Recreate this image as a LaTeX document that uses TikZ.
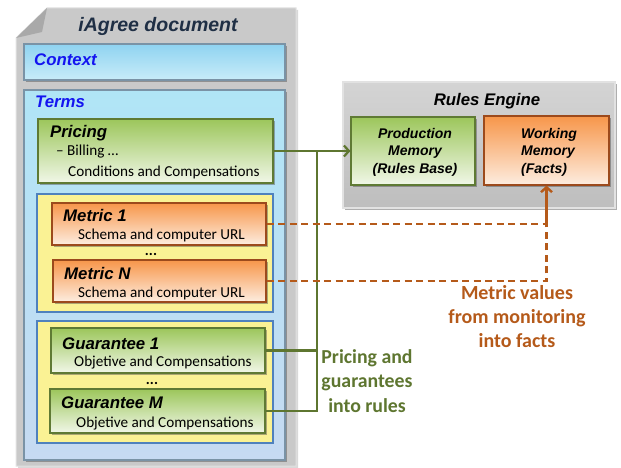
\documentclass[tikz,border=0pt]{standalone}
\usepackage{fontspec}
\setmainfont{Carlito}
\newfontfamily\headfont{Liberation Sans}
\usetikzlibrary{arrows.meta,shadows}

\definecolor{docgray}{HTML}{C9C9C9}
\definecolor{docedge}{HTML}{E2E2E2}
\definecolor{docfold}{HTML}{A9A9A9}
\definecolor{ctxtop}{HTML}{8FD3F0}
\definecolor{ctxbot}{HTML}{C8ECF9}
\definecolor{termtop}{HTML}{B0E5F6}
\definecolor{termbot}{HTML}{C6DAF2}
\definecolor{boxedge}{HTML}{7A93A6}
\definecolor{grtop}{HTML}{9CC65B}
\definecolor{grbot}{HTML}{F1F7E8}
\definecolor{gredge}{HTML}{5F7A34}
\definecolor{ortop}{HTML}{F7964A}
\definecolor{orbot}{HTML}{FDEDE0}
\definecolor{oredge}{HTML}{9C4A1C}
\definecolor{yelfill}{HTML}{FAF294}
\definecolor{yeledge}{HTML}{4F81BD}
\definecolor{enginetop}{HTML}{D4D4D4}
\definecolor{enginebot}{HTML}{BEBEBE}
\definecolor{linkgreen}{HTML}{5E7630}
\definecolor{linkorange}{HTML}{B55A1A}
\definecolor{navy}{HTML}{1F2F45}
\definecolor{termblue}{HTML}{1414F0}

\tikzset{
  shadowed/.style={drop shadow={shadow xshift=2pt, shadow yshift=-2pt, opacity=0.45, fill=black!70}},
  box/.style={rectangle, inner sep=0pt, line width=1.1pt},
  bluebox/.style={box, draw=boxedge, shadowed},
  greenbox/.style={box, draw=gredge, top color=grtop, bottom color=grbot, shadowed},
  orangebox/.style={box, draw=oredge, top color=ortop, bottom color=orbot, shadowed},
  yellowbox/.style={box, draw=yeledge, line width=1.4pt, fill=yelfill},
  enginebox/.style={box, draw=docedge, top color=enginetop, bottom color=enginebot, shadowed},
  boxtitle/.style={inner sep=0pt, font=\headfont\bfseries\itshape\fontsize{16.8}{18}\selectfont},
  smalltitle/.style={inner sep=0pt, align=center, font=\headfont\bfseries\itshape\fontsize{14}{17.5}\selectfont},
  bodytext/.style={inner sep=0pt, font=\fontsize{15.2}{17}\selectfont},
  dots/.style={inner sep=0pt, text height=3pt, text depth=0pt, font=\bfseries\fontsize{15}{15}\selectfont},
  greenlabel/.style={inner sep=0pt, align=center, text=linkgreen, font=\bfseries\fontsize{19.8}{24.5}\selectfont},
  orangelabel/.style={inner sep=0pt, align=center, text=linkorange, font=\bfseries\fontsize{20}{24}\selectfont},
  greenlink/.style={draw=linkgreen, line width=2.2pt},
  orangelink/.style={draw=linkorange, line width=2.4pt, dash pattern=on 7pt off 4.5pt},
}

\begin{document}
\begin{tikzpicture}[x=1pt, y=-1pt]
\useasboundingbox (0,0) rectangle (621,468);

% document sheet with folded corner
\fill[black!15] (18,40) -- (49,10) -- (298,10) -- (298,468) -- (18,468) -- cycle;
\draw[fill=docgray, draw=docedge, line width=1pt]
  (16,38) -- (47,8) -- (296,8) -- (296,466) -- (16,466) -- cycle;
\fill[docfold] (47,8) -- (42,32) -- (16,38) -- cycle;
\node[inner sep=0pt, anchor=base, text=navy,
      font=\headfont\bfseries\itshape\fontsize{19.5}{22}\selectfont]
  (doctitle) at (158,32) {iAgree document};

% context and terms
\node[bluebox, top color=ctxtop, bottom color=ctxbot,
      minimum width=261pt, minimum height=36pt] (context) at (154.5,62) {};
\node[boxtitle, anchor=base west, text=termblue] (contextT) at (34,66) {Context};

\node[bluebox, top color=termtop, bottom color=termbot,
      minimum width=261pt, minimum height=370pt] (terms) at (154.5,275) {};
\node[boxtitle, anchor=base west, text=termblue] (termsT) at (35,108) {Terms};

% pricing
\node[greenbox, minimum width=235pt, minimum height=64pt] (pricing) at (155.5,151) {};
\node[boxtitle, anchor=base west] (pricingT) at (50,138) {Pricing};
\node[bodytext, anchor=base west] (pricingA) at (56,156) {– Billing …};
\node[bodytext, anchor=base west] (pricingB) at (68,176) {Conditions and Compensations};

% metrics
\node[yellowbox, minimum width=236pt, minimum height=118pt] (metrics) at (155,253) {};
\node[orangebox, minimum width=214pt, minimum height=42pt] (m1) at (159,224) {};
\node[boxtitle, anchor=base west] (m1T) at (63,221.5) {Metric 1};
\node[bodytext, anchor=base west] (m1B) at (78,239.5) {Schema and computer URL};
\node[dots, anchor=base] (mdots) at (151,255) {...};
\node[orangebox, minimum width=213pt, minimum height=42pt] (mN) at (159.5,281) {};
\node[boxtitle, anchor=base west] (mNT) at (64,279) {Metric N};
\node[bodytext, anchor=base west] (mNB) at (78,297) {Schema and computer URL};

% guarantees
\node[yellowbox, minimum width=236pt, minimum height=122pt] (guarantees) at (155,382) {};
\node[greenbox, minimum width=214pt, minimum height=45pt] (g1) at (158,350.5) {};
\node[boxtitle, anchor=base west] (g1T) at (62,349) {Guarantee 1};
\node[bodytext, anchor=base west] (g1B) at (74,366) {Objetive and Compensations};
\node[dots, anchor=base] (gdots) at (152,384) {...};
\node[greenbox, minimum width=215pt, minimum height=44pt] (gM) at (157.5,411) {};
\node[boxtitle, anchor=base west] (gMT) at (61,408) {Guarantee M};
\node[bodytext, anchor=base west] (gMB) at (76,427) {Objetive and Compensations};

% rules engine
\node[enginebox, minimum width=272pt, minimum height=126pt] (engine) at (479,145) {};
\node[boxtitle, anchor=base] (engineT) at (487,106) {Rules Engine};
\node[greenbox, minimum width=124pt, minimum height=68pt] (prod) at (413,151) {};
\node[smalltitle, anchor=base] (prodT) at (415,173) {Production\\Memory\\(Rules Base)};
\node[orangebox, minimum width=125pt, minimum height=69pt] (work) at (546.5,150.5) {};
\node[smalltitle, align=left, anchor=base west] (workT) at (521,173) {Working\\Memory\\(Facts)};

% pricing and guarantees into rules
\coordinate (gjoin) at (317,151);
\draw[greenlink] (gM.east) -| (gjoin);
\draw[greenlink] (g1.east) -- (g1.east -| gjoin);
\draw[greenlink, -{Straight Barb[length=5pt, width=11pt]}] (pricing.east) -- (prod.west);
\node[greenlabel, anchor=base] (greenT) at (367,412) {Pricing and\\guarantees\\into rules};

% metric values into facts
\coordinate (ojoin) at (m1.east -| work.south);
\draw[orangelink] (m1.east) -- (ojoin);
\draw[orangelink] (mN.east) -| (ojoin);
\draw[draw=linkorange, line width=2.4pt, -{Straight Barb[length=5pt, width=11pt]}]
  (ojoin) -- (work.south);
\node[orangelabel, anchor=base] (orangeT) at (517,347) {Metric values\\from monitoring\\into facts};
\end{tikzpicture}
\end{document}
